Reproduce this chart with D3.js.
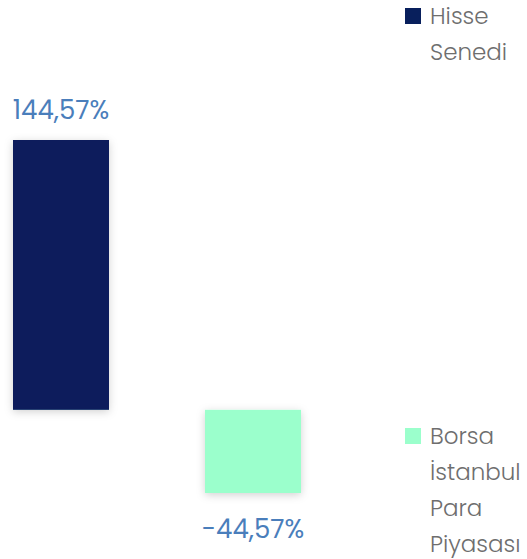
<!DOCTYPE html>
<html>
<head>
<meta charset="utf-8">
<script src="https://cdn.jsdelivr.net/npm/d3@7"></script>
<style>
  body { margin: 0; background: #fff; }
  text { font-family: Poppins, Inter, sans-serif; }
</style>
</head>
<body>
<div class="chart"></div>
<script>
const categories = ["Hisse Senedi", "Borsa İstanbul Para Piyasası"];
const values = [144.57, -44.57];
const valueLabels = ["144,57%", "-44,57%"];
const legendLines = [["Hisse", "Senedi"], ["Borsa", "İstanbul", "Para", "Piyasası"]];
const colors = ["#081f5c", "#9bffcc"];

const w = 527;
const h = 559;

var svg = d3.select(".chart").append("svg")
      .attr("width", w)
      .attr("height", h);

var defs = svg.append("defs");
defs.append("filter")
    .attr("id", "shadow")
    .attr("x", "-20%").attr("y", "-20%")
    .attr("width", "140%").attr("height", "140%")
  .append("feDropShadow")
    .attr("dx", 0).attr("dy", 2)
    .attr("stdDeviation", 4)
    .attr("flood-color", "#000")
    .attr("flood-opacity", 0.18);

var xScale = d3.scaleBand()
    .domain(categories)
    .range([13, 301])
    .paddingInner(0.5)
    .paddingOuter(0);

var yScale = d3.scaleLinear()
    .domain([d3.min(values), d3.max(values)])
    .range([493, 140]);

// bars
svg.selectAll(".bar")
   .data(values)
   .enter().append("rect")
   .attr("class", "bar")
   .attr("x", (d, i) => xScale(categories[i]))
   .attr("y", d => yScale(Math.max(0, d)))
   .attr("width", xScale.bandwidth())
   .attr("height", d => Math.abs(yScale(d) - yScale(0)))
   .attr("fill", (d, i) => colors[i])
   .attr("filter", "url(#shadow)");

// value labels
svg.selectAll(".val")
   .data(values)
   .enter().append("text")
   .attr("class", "val")
   .attr("x", (d, i) => xScale(categories[i]) + xScale.bandwidth() / 2)
   .attr("y", d => d >= 0 ? yScale(d) - 21 : yScale(d) + 45)
   .attr("text-anchor", "middle")
   .attr("font-size", 26)
   .attr("fill", "#4a7ebb")
   .text((d, i) => valueLabels[i]);

// legend
var legendY = [0, 420];
legendLines.forEach(function(lines, i) {
  var g = svg.append("g").attr("transform", "translate(405," + legendY[i] + ")");
  g.append("rect")
    .attr("x", 0).attr("y", 8)
    .attr("width", 16).attr("height", 16)
    .attr("fill", colors[i]);
  g.selectAll("text")
    .data(lines)
    .enter().append("text")
    .attr("x", 25)
    .attr("y", (d, j) => 24 + j * 36)
    .attr("font-size", 23)
    .attr("font-weight", 300)
    .attr("fill", "#6e6e6e")
    .text(d => d);
});
</script>
</body>
</html>
